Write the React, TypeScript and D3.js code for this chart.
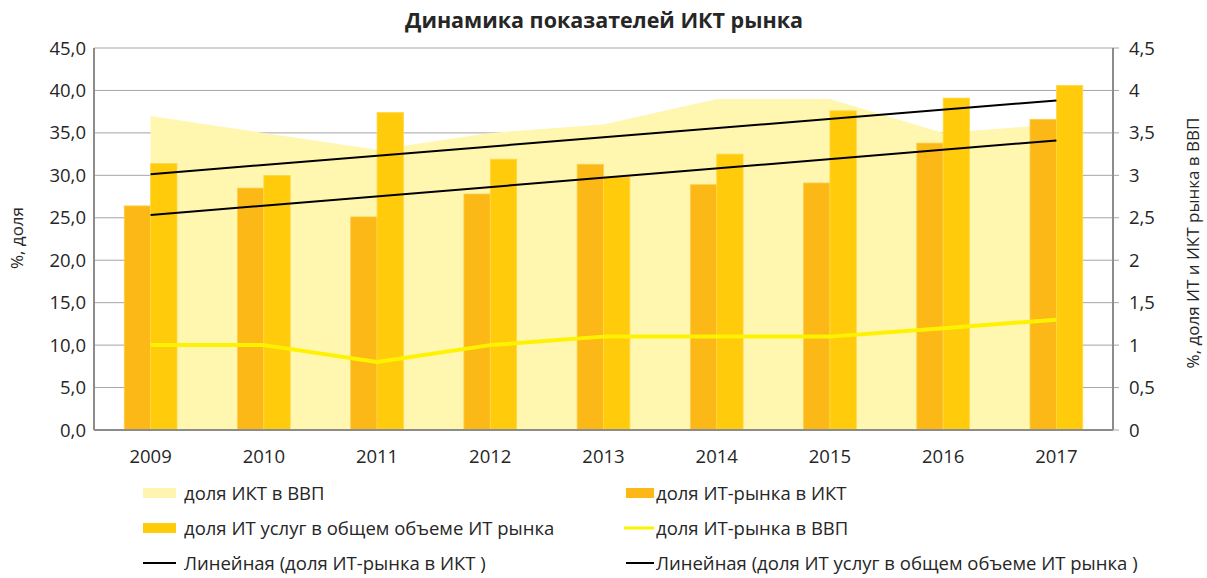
import React from "react";
import * as d3 from "d3";

const years = ["2009", "2010", "2011", "2012", "2013", "2014", "2015", "2016", "2017"];
const ictShareGdp = [3.7, 3.5, 3.3, 3.5, 3.6, 3.9, 3.9, 3.5, 3.6];
const itShareIct = [26.4, 28.5, 25.1, 27.8, 31.3, 28.9, 29.1, 33.8, 36.6];
const itServicesShare = [31.4, 30.0, 37.4, 31.9, 29.8, 32.5, 37.6, 39.1, 40.6];
const itShareGdp = [1.0, 1.0, 0.8, 1.0, 1.1, 1.1, 1.1, 1.2, 1.3];
const leftTicks = [0, 5, 10, 15, 20, 25, 30, 35, 40, 45];
const rightTicks = [0, 0.5, 1, 1.5, 2, 2.5, 3, 3.5, 4, 4.5];

const W = 1207, H = 578;
const M = { left: 94, right: 1113, top: 48, bottom: 430 };
const FONT = "'Open Sans', 'Noto Sans', sans-serif";

function trend(vals: number[]) {
  const n = vals.length;
  const xs = vals.map((_, i) => i);
  const mx = d3.mean(xs) as number;
  const my = d3.mean(vals) as number;
  const num = d3.sum(xs, (x, i) => (x - mx) * (vals[i] - my));
  const den = d3.sum(xs, (x) => (x - mx) * (x - mx));
  const b = num / den;
  const a = my - b * mx;
  return [a, a + b * (n - 1)];
}

export default function App() {
  const x = d3.scaleBand<string>().domain(years).range([M.left, M.right]).paddingInner(0).paddingOuter(0);
  const yL = d3.scaleLinear().domain([0, 45]).range([M.bottom, M.top]);
  const yR = d3.scaleLinear().domain([0, 4.5]).range([M.bottom, M.top]);
  const cx = (y: string) => (x(y) as number) + x.bandwidth() / 2;
  const barW = x.bandwidth() * 0.233;

  const area = d3.area<number>().x((_, i) => cx(years[i])).y0(yR(0)).y1((d) => yR(d));
  const line = d3.line<number>().x((_, i) => cx(years[i])).y((d) => yR(d));

  const t1 = trend(itShareIct);
  const t2 = trend(itServicesShare);
  const first = cx(years[0]), last = cx(years[years.length - 1]);

  const gridColor = "#a6a6a6";
  const textColor = "#262626";
  const fs = 18.5;

  const legend = [
    { x: 143, y: 493, type: "rect", color: "#fff5b0", label: "доля ИКТ в ВВП" },
    { x: 626, y: 493, type: "rect", color: "#fbb817", label: "доля ИТ-рынка в ИКТ" },
    { x: 143, y: 528, type: "rect", color: "#ffcb0b", label: "доля ИТ услуг в общем объеме ИТ рынка" },
    { x: 626, y: 528, type: "line", color: "#fff200", label: "доля ИТ-рынка в ВВП" },
    { x: 143, y: 563, type: "trend", color: "#000", label: "Линейная (доля ИТ-рынка в ИКТ )" },
    { x: 626, y: 563, type: "trend", color: "#000", label: "Линейная (доля ИТ услуг в общем объеме ИТ рынка )" },
  ];

  return (
    <svg width={W} height={H} style={{ position: "absolute", left: 0, top: 0, background: "#fff" }} fontFamily={FONT}>
      <text x={604} y={28} textAnchor="middle" fontSize={21.5} fontWeight="bold" fill={textColor}>
        Динамика показателей ИКТ рынка
      </text>

      {leftTicks.map((t) => (
        <g key={"g" + t}>
          <line x1={M.left} x2={M.right + 6} y1={yL(t)} y2={yL(t)} stroke={gridColor} strokeWidth={1} />
          <text x={86} y={yL(t) + 6.5} textAnchor="end" fontSize={fs} fill={textColor}>
            {t.toFixed(1).replace(".", ",")}
          </text>
        </g>
      ))}
      {rightTicks.map((t) => (
        <text key={"r" + t} x={1129} y={yR(t) + 6.5} textAnchor="start" fontSize={fs} fill={textColor}>
          {String(t).replace(".", ",")}
        </text>
      ))}

      <path d={area(ictShareGdp) as string} fill="#fff6b0" />

      {years.map((yr, i) => (
        <g key={yr}>
          <rect x={cx(yr) - barW} y={yL(itShareIct[i])} width={barW} height={yL(0) - yL(itShareIct[i])} fill="#fbb817" stroke="#fdd04a" strokeWidth={0.8} />
          <rect x={cx(yr)} y={yL(itServicesShare[i])} width={barW} height={yL(0) - yL(itServicesShare[i])} fill="#ffcb0b" stroke="#ffd84a" strokeWidth={0.8} />
          <text x={cx(yr)} y={463} textAnchor="middle" fontSize={fs} fill={textColor}>{yr}</text>
        </g>
      ))}

      <path d={line(itShareGdp) as string} fill="none" stroke="#fff200" strokeWidth={4} strokeLinejoin="round" />

      <line x1={first} x2={last} y1={yL(t1[0])} y2={yL(t1[1])} stroke="#000" strokeWidth={2} />
      <line x1={first} x2={last} y1={yL(t2[0])} y2={yL(t2[1])} stroke="#000" strokeWidth={2} />

      <line x1={M.left} x2={M.left} y1={M.top} y2={M.bottom} stroke="#8c8c8c" strokeWidth={2} />
      <line x1={M.right} x2={M.right} y1={M.top} y2={M.bottom} stroke="#8c8c8c" strokeWidth={2} />
      <line x1={M.left} x2={M.right} y1={M.bottom} y2={M.bottom} stroke="#8c8c8c" strokeWidth={2} />

      <text transform={`translate(23,238) rotate(-90)`} textAnchor="middle" fontSize={17} fill={textColor}>%, доля</text>
      <text transform={`translate(1199,243) rotate(-90)`} textAnchor="middle" fontSize={17} fill={textColor}>%,  доля ИТ и ИКТ рынка в ВВП</text>

      {legend.map((l, i) => (
        <g key={"l" + i}>
          {l.type === "rect" && <rect x={l.x} y={l.y - 5} width={l.x > 600 ? 28 : 33} height={10} fill={l.color} />}
          {l.type === "line" && <line x1={l.x - 2} x2={l.x + 28} y1={l.y} y2={l.y} stroke={l.color} strokeWidth={3} />}
          {l.type === "trend" && <line x1={l.x} x2={l.x + (l.x > 600 ? 28 : 33)} y1={l.y} y2={l.y} stroke={l.color} strokeWidth={2} />}
          <text x={l.x > 600 ? 656 : 184} y={l.y + 6.5} fontSize={fs} fill={textColor}>{l.label}</text>
        </g>
      ))}
    </svg>
  );
}
